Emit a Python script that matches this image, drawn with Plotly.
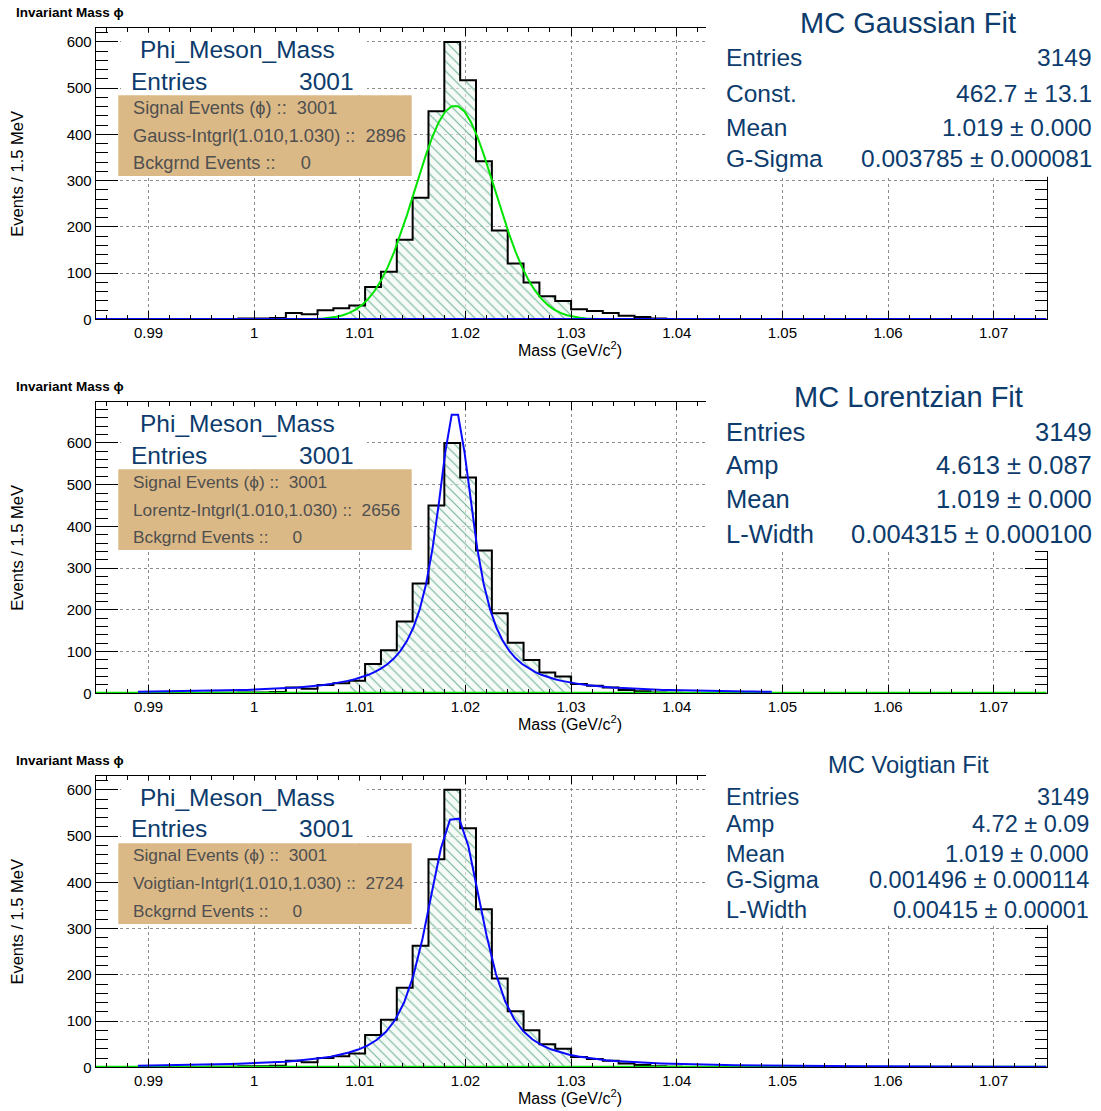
import numpy as np
import plotly.graph_objects as go

W, H = 1101, 1111
FONT = "Liberation Sans, Arial, Helvetica, sans-serif"

# ---------------- data ----------------
# phi-meson invariant-mass histogram: 60 bins of 1.5 MeV from 0.985 GeV
bin_low_edge = 0.985
bin_width = 0.0015
counts = [0, 0, 0, 0, 0, 0, 0, 1, 1, 2,
          2, 3, 14, 11, 20, 24, 30, 70, 103, 172,
          263, 450, 600, 517, 342, 192, 121, 80, 50, 40,
          22, 18, 14, 8, 5, 2, 1, 0, 0, 0,
          0, 0, 0, 0, 0, 0, 0, 0, 0, 0,
          0, 0, 0, 0, 0, 0, 0, 0, 0, 0]

# integration window (GeV)
window = [1.010, 1.030]

# fitted parameters
gauss_params = [462.7, 1.019, 0.003785]            # const, mean, sigma
lorentz_params = [4.613, 1.019, 0.004315]          # amp, mean, width
voigt_params = [4.72, 1.019, 0.001496, 0.00415]    # amp, mean, sigma, l-width
fit_half_range = 0.03

x_tick_vals = [0.99, 1.00, 1.01, 1.02, 1.03, 1.04, 1.05, 1.06, 1.07]
x_tick_text = ["0.99", "1", "1.01", "1.02", "1.03", "1.04", "1.05", "1.06", "1.07"]
y_tick_vals = [0, 100, 200, 300, 400, 500, 600]

hist_name = "Phi_Meson_Mass"
hist_entries = "3001"
signal_events = "3001"
background_events = "0"
integral_labels = ["Gauss-Intgrl(1.010,1.030)", "Lorentz-Intgrl(1.010,1.030)",
                   "Voigtian-Intgrl(1.010,1.030)"]
integral_values = ["2896", "2656", "2724"]

fit_titles = ["MC Gaussian Fit", "MC Lorentzian Fit", "MC Voigtian Fit"]
fit_rows = [
    [("Entries", "3149"), ("Const.", "462.7 ± 13.1"), ("Mean", "1.019 ± 0.000"),
     ("G-Sigma", "0.003785 ± 0.000081")],
    [("Entries", "3149"), ("Amp", "4.613 ± 0.087"), ("Mean", "1.019 ± 0.000"),
     ("L-Width", "0.004315 ± 0.000100")],
    [("Entries", "3149"), ("Amp", "4.72 ± 0.09"), ("Mean", "1.019 ± 0.000"),
     ("G-Sigma", "0.001496 ± 0.000114"), ("L-Width", "0.00415 ± 0.00001")],
]
y_max = [630, 698, 630]

# ---------------- derived quantities ----------------
counts = np.array(counts, dtype=float)
edges = bin_low_edge + bin_width * np.arange(len(counts) + 1)
centers = 0.5 * (edges[:-1] + edges[1:])
x_lo, x_hi = edges[0], edges[-1]
in_window = (edges[1:] > window[0] + 1e-9) & (edges[:-1] < window[1] - 1e-9)


def gauss(x, c, m, s):
    return c * np.exp(-0.5 * ((x - m) / s) ** 2)


def breit_wigner(x, amp, m, g):
    return amp * (g / (2 * np.pi)) / ((x - m) ** 2 + g * g / 4)


def voigt(x, amp, m, s, g):
    t = np.linspace(-10 * s, 10 * s, 4001)
    dt = t[1] - t[0]
    gk = np.exp(-0.5 * (t / s) ** 2) / (s * np.sqrt(2 * np.pi))
    lor = (g / (2 * np.pi)) / (((x[:, None] - m) - t[None, :]) ** 2 + g * g / 4)
    return amp * (lor * gk[None, :]).sum(axis=1) * dt


xg = np.linspace(gauss_params[1] - fit_half_range, gauss_params[1] + fit_half_range, 100)
xl = np.linspace(lorentz_params[1] - fit_half_range, lorentz_params[1] + fit_half_range, 100)
xv = np.linspace(voigt_params[1] - fit_half_range, x_hi, 100)
curves = [
    (xg, gauss(xg, *gauss_params)),
    (xl, breit_wigner(xl, *lorentz_params)),
    (xv, voigt(xv, *voigt_params)),
]

# ---------------- page geometry (pixels) ----------------
frame_left, frame_right = 95.7, 1046.5
frame_tops = [28.3, 405.0, 781.6]
frame_bottoms = [321.7, 698.3, 1075.0]
panel_shift = [0.0, 376.7, 753.3]
PAD = 2.5  # annotation box padding compensation

BLUE_TEXT = "#0c3b6c"
GREEN = "#00e400"
BLUE = "#0a0aff"


def px(xp):
    return xp / W


def py(yp):
    return 1 - yp / H


fig = go.Figure()
annotations = []
shapes = []


def text(t, x, y, size, color, anchor="left", bold=False, angle=0):
    if anchor == "left":
        x -= PAD
    elif anchor == "right":
        x += PAD
    annotations.append(dict(
        text=f"<b>{t}</b>" if bold else t, x=px(x), y=py(y), xref="paper", yref="paper",
        xanchor=anchor, yanchor="middle", showarrow=False, textangle=angle,
        font=dict(family=FONT, size=size, color=color)))


for i in range(3):
    xa = "x" if i == 0 else f"x{i + 1}"
    ya = "y" if i == 0 else f"y{i + 1}"

    # hatched bins inside the integration window
    fig.add_trace(go.Bar(
        x=centers[in_window], y=counts[in_window], width=bin_width,
        xaxis=xa, yaxis=ya,
        marker=dict(color="rgba(240,248,244,0.6)", line=dict(width=0),
                    pattern=dict(shape="\\", fgcolor="#5aa985", fgopacity=0.85,
                                 size=7, solidity=0.16)),
        hoverinfo="skip",
    ))
    # histogram outline
    fig.add_trace(go.Scatter(
        x=edges, y=np.append(counts, counts[-1]), mode="lines",
        line=dict(color="black", width=2, shape="hv"),
        xaxis=xa, yaxis=ya, hoverinfo="skip",
    ))
    zero_x = np.array([x_lo, x_hi])
    zero_y = np.zeros(2)
    cx, cy = curves[i]
    if i == 0:
        fig.add_trace(go.Scatter(x=cx, y=cy, mode="lines", line=dict(color=GREEN, width=2),
                                 xaxis=xa, yaxis=ya, hoverinfo="skip"))
        fig.add_trace(go.Scatter(x=zero_x, y=zero_y, mode="lines", line=dict(color=BLUE, width=3),
                                 xaxis=xa, yaxis=ya, hoverinfo="skip", cliponaxis=False))
    else:
        fig.add_trace(go.Scatter(x=zero_x, y=zero_y, mode="lines", line=dict(color=GREEN, width=3),
                                 xaxis=xa, yaxis=ya, hoverinfo="skip", cliponaxis=False))
        fig.add_trace(go.Scatter(x=cx, y=cy, mode="lines", line=dict(color=BLUE, width=2),
                                 xaxis=xa, yaxis=ya, hoverinfo="skip"))

    ydom = [py(frame_bottoms[i]), py(frame_tops[i])]
    fig.update_layout({
        ("xaxis" if i == 0 else f"xaxis{i + 1}"): dict(
            domain=[px(frame_left), px(frame_right)], anchor=ya,
            range=[x_lo, x_hi], tickmode="array", tickvals=x_tick_vals, ticktext=x_tick_text,
            ticks="inside", ticklen=8, tickwidth=1, tickcolor="black",
            minor=dict(tick0=0.99, dtick=0.002, ticks="inside", ticklen=4,
                       tickcolor="black", showgrid=False),
            showline=True, linecolor="black", linewidth=1, mirror="ticks",
            showgrid=True, gridcolor="#8c8c8c", griddash="dot", gridwidth=1,
            zeroline=False, tickfont=dict(family=FONT, size=15, color="black"),
        ),
        ("yaxis" if i == 0 else f"yaxis{i + 1}"): dict(
            domain=ydom, anchor=xa, range=[0, y_max[i]],
            tickmode="array", tickvals=y_tick_vals,
            ticks="inside", ticklen=22, tickwidth=1, tickcolor="black",
            minor=dict(tick0=0, dtick=20, ticks="inside", ticklen=12,
                       tickcolor="black", showgrid=False),
            showline=True, linecolor="black", linewidth=1, mirror="ticks",
            showgrid=True, gridcolor="#8c8c8c", griddash="dot", gridwidth=1,
            zeroline=False, tickfont=dict(family=FONT, size=15, color="black"),
        ),
    })

    d = panel_shift[i]
    # white panes behind the statistics text
    shapes.append(dict(type="rect", xref="paper", yref="paper", layer="above",
                       x0=px(121), x1=px(367), y0=py(96 + d), y1=py(33 + d),
                       fillcolor="white", line=dict(width=0)))
    right_bottom = [178, 555, 932][i]
    shapes.append(dict(type="rect", xref="paper", yref="paper", layer="above",
                       x0=px(706), x1=px(1101), y0=py(right_bottom), y1=py(frame_tops[i] - 12),
                       fillcolor="white", line=dict(width=0)))
    # tan information box
    shapes.append(dict(type="rect", xref="paper", yref="paper", layer="above",
                       x0=px(118.3), x1=px(411.7), y0=py(177.3 + d), y1=py(96 + d),
                       fillcolor="#dbb987", line=dict(width=0)))

    text("Invariant Mass ϕ", 16, 12.5 + d, 13.5, "black", bold=True)
    text("Events / 1.5 MeV", 17, (frame_tops[i] + frame_bottoms[i]) / 2, 16.5, "black",
         anchor="center", angle=-90)
    text("Mass (GeV/c<sup>2</sup>)", 570, frame_bottoms[i] + 29.5, 16, "black", anchor="center")

    text(hist_name, 140, 50 + d, 24.5, BLUE_TEXT)
    text("Entries", 131, 81.7 + d, 24.5, BLUE_TEXT)
    text(hist_entries, 353, 81.7 + d, 24.5, BLUE_TEXT, anchor="right")

    NB = "\u00a0"
    box_size = [18.2, 17.3, 17.3][i]
    text(f"Signal Events (ϕ) ::{NB}{NB}{signal_events}", 133, 108.3 + d, box_size, "#4f4f4f")
    text(f"{integral_labels[i]} ::{NB}{NB}{integral_values[i]}", 133, 136.5 + d, box_size, "#4f4f4f")
    text(f"Bckgrnd Events ::{NB}{NB}{NB}{NB}{NB}{background_events}", 133, 164 + d, box_size, "#4f4f4f")

    title_y = [22.7, 400, 770.7][i]
    title_size = [29, 29, 23.7][i]
    text(fit_titles[i], 908, title_y, title_size, BLUE_TEXT, anchor="center")
    row_ys = [[58.3, 94.3, 128.3, 160], [435, 468, 503, 538],
              [802.7, 830, 860, 886.7, 916.7]][i]
    row_size = [24.5, 25.5, 23.5][i]
    val_right = [1091.7, 1091.7, 1088.3][i]
    for (lab, val), yy in zip(fit_rows[i], row_ys):
        text(lab, 726.7, yy, row_size, BLUE_TEXT)
        text(val, val_right, yy, row_size, BLUE_TEXT, anchor="right")

fig.update_layout(
    width=W, height=H, margin=dict(l=0, r=0, t=0, b=0),
    paper_bgcolor="white", plot_bgcolor="white",
    showlegend=False, barmode="overlay", bargap=0,
    annotations=annotations, shapes=shapes,
)

fig.write_html("out.html")
